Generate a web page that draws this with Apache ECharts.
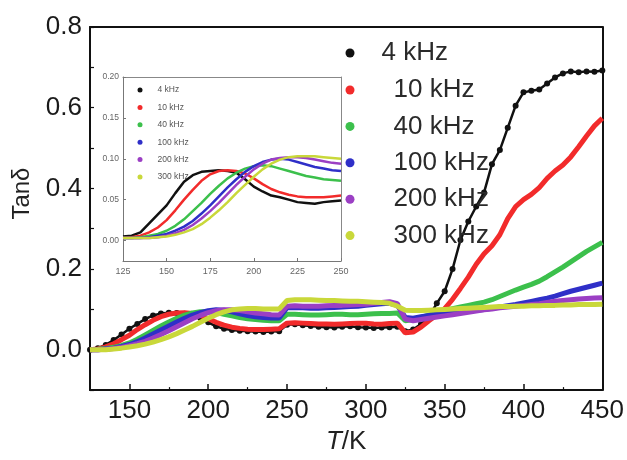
<!DOCTYPE html>
<html>
<head>
<meta charset="utf-8">
<script src="https://cdn.jsdelivr.net/npm/echarts@6/dist/echarts.min.js"></script>
<style>
  html, body { margin: 0; padding: 0; background: #fff; }
  #chart { width: 627px; height: 460px; }
</style>
</head>
<body>
<div id="chart"></div>
<script>
// Temperature sweep (K) for the full-range curves
const temps = [125,130,135,140,145,150,155,160,165,170,175,180,185,190,195,200,205,210,215,220,225,230,235,240,245,
  250,255,260,265,270,275,280,285,290,295,300,305,310,315,320,
  325,330,335,340,345,350,355,360,365,370,375,380,385,390,395,400,405,410,415,420,425,430,435,440,445,450];

const freqNames = ['4 kHz', '10 kHz', '40 kHz', '100 kHz', '200 kHz', '300 kHz'];
const freqColors = ['#111111', '#f22b2b', '#3cc04c', '#2f2fc8', '#9b3fc4', '#c9d83a'];

// tan δ, full range
const tan4k = [0.000,0.004,0.012,0.024,0.038,0.052,0.064,0.076,0.085,0.090,0.092,0.091,0.089,0.086,0.079,0.068,0.058,0.052,0.049,0.047,0.046,0.045,0.044,0.045,0.046,
  0.062,0.063,0.061,0.059,0.057,0.056,0.055,0.057,0.058,0.056,0.055,0.054,0.055,0.056,0.057,
  0.046,0.050,0.064,0.082,0.115,0.145,0.200,0.272,0.318,0.355,0.390,0.460,0.495,0.550,0.605,0.638,0.642,0.645,0.660,0.675,0.685,0.690,0.688,0.690,0.689,0.692];
const tan10k = [0.000,0.002,0.007,0.015,0.025,0.036,0.050,0.062,0.073,0.082,0.088,0.091,0.092,0.090,0.085,0.077,0.068,0.061,0.056,0.053,0.051,0.050,0.050,0.051,0.052,
  0.066,0.067,0.066,0.065,0.064,0.064,0.063,0.064,0.065,0.066,0.066,0.064,0.063,0.065,0.066,
  0.042,0.044,0.056,0.072,0.086,0.102,0.125,0.152,0.180,0.212,0.238,0.258,0.285,0.325,0.355,0.372,0.385,0.402,0.425,0.443,0.458,0.478,0.503,0.530,0.555,0.574];
const tan40k = [0.000,0.001,0.003,0.006,0.011,0.017,0.026,0.037,0.048,0.059,0.069,0.078,0.086,0.091,0.094,0.094,0.092,0.088,0.084,0.080,0.077,0.075,0.073,0.072,0.072,
  0.088,0.088,0.087,0.086,0.086,0.087,0.088,0.088,0.087,0.087,0.088,0.089,0.090,0.090,0.091,
  0.072,0.075,0.080,0.086,0.092,0.098,0.102,0.106,0.110,0.114,0.118,0.124,0.132,0.140,0.148,0.155,0.162,0.170,0.181,0.193,0.205,0.218,0.231,0.244,0.255,0.266];
const tan100k = [0.000,0.000,0.002,0.004,0.008,0.013,0.020,0.029,0.039,0.049,0.059,0.069,0.078,0.086,0.092,0.097,0.099,0.098,0.094,0.089,0.085,0.082,0.080,0.079,0.079,
  0.104,0.105,0.104,0.103,0.103,0.104,0.105,0.106,0.107,0.108,0.110,0.112,0.114,0.115,0.110,
  0.080,0.078,0.082,0.085,0.088,0.090,0.092,0.094,0.096,0.098,0.100,0.103,0.106,0.109,0.112,0.116,0.120,0.124,0.128,0.133,0.139,0.145,0.150,0.155,0.160,0.165];
const tan200k = [0.000,0.000,0.001,0.003,0.006,0.010,0.015,0.021,0.029,0.038,0.047,0.057,0.067,0.077,0.085,0.092,0.097,0.099,0.099,0.097,0.094,0.091,0.089,0.087,0.086,
  0.108,0.109,0.108,0.108,0.108,0.109,0.110,0.110,0.111,0.112,0.113,0.115,0.117,0.119,0.114,
  0.076,0.072,0.075,0.078,0.081,0.084,0.087,0.090,0.093,0.096,0.099,0.101,0.104,0.106,0.108,0.110,0.112,0.114,0.117,0.120,0.122,0.124,0.126,0.127,0.128,0.129];
const tan300k = [0.000,0.000,0.000,0.002,0.004,0.007,0.010,0.014,0.019,0.025,0.032,0.040,0.049,0.058,0.068,0.078,0.087,0.094,0.099,0.101,0.102,0.102,0.101,0.101,0.101,
  0.122,0.124,0.124,0.124,0.123,0.122,0.122,0.121,0.120,0.120,0.119,0.118,0.117,0.115,0.108,
  0.098,0.097,0.097,0.098,0.099,0.100,0.101,0.102,0.103,0.104,0.105,0.106,0.107,0.107,0.108,0.108,0.109,0.109,0.110,0.110,0.111,0.111,0.112,0.112,0.112,0.113];

// Low-temperature detail (inset), 125–250 K
const insetTemps = [125,130,135,140,145,150,155,160,165,170,175,180,185,190,195,200,205,210,215,220,225,230,235,240,245,250];
const inset4k = [0.005,0.006,0.010,0.021,0.032,0.043,0.058,0.072,0.080,0.084,0.085,0.086,0.085,0.083,0.075,0.066,0.060,0.055,0.053,0.050,0.047,0.046,0.045,0.047,0.048,0.049];
const inset10k = [0.003,0.004,0.006,0.010,0.016,0.025,0.037,0.050,0.062,0.073,0.081,0.085,0.086,0.085,0.082,0.076,0.069,0.063,0.059,0.056,0.054,0.053,0.053,0.053,0.054,0.055];
const inset40k = [0.003,0.003,0.004,0.006,0.008,0.012,0.018,0.026,0.036,0.046,0.057,0.067,0.076,0.083,0.088,0.091,0.092,0.091,0.088,0.085,0.082,0.079,0.077,0.075,0.074,0.073];
const inset100k = [0.003,0.003,0.003,0.004,0.006,0.008,0.012,0.017,0.024,0.033,0.043,0.054,0.065,0.075,0.084,0.091,0.096,0.099,0.100,0.099,0.096,0.093,0.090,0.088,0.086,0.085];
const inset200k = [0.003,0.003,0.003,0.003,0.004,0.006,0.009,0.013,0.019,0.027,0.036,0.046,0.057,0.068,0.078,0.087,0.094,0.099,0.101,0.102,0.102,0.101,0.099,0.097,0.095,0.094];
const inset300k = [0.003,0.003,0.003,0.003,0.004,0.005,0.007,0.010,0.014,0.020,0.028,0.037,0.047,0.058,0.068,0.078,0.087,0.094,0.099,0.102,0.103,0.103,0.103,0.102,0.101,0.100];

// Tick and label positions
const mainXLabels = [150,200,250,300,350,400,450];
const mainXMinor = [175,225,275,325,375,425];
const mainYLabels = [0,0.2,0.4,0.6,0.8];
const insetXLabels = [125,150,175,200,225,250];
const insetYLabels = [0,0.05,0.10,0.15,0.20];

const mainSets = [tan4k, tan10k, tan40k, tan100k, tan200k, tan300k];
const insetSets = [inset4k, inset10k, inset40k, inset100k, inset200k, inset300k];

const FONT = '"Liberation Sans", Arial, sans-serif';
const pair = (xs, ys) => xs.map((x, i) => [x, ys[i]]);
const hidden = { show: false };

const series = [];
mainSets.forEach((vals, k) => {
  const isBlack = k === 0;
  series.push({
    name: freqNames[k], type: 'line', xAxisIndex: 0, yAxisIndex: 0,
    data: pair(temps, vals),
    color: freqColors[k],
    showSymbol: isBlack, symbol: 'circle', symbolSize: 6,
    lineStyle: { width: isBlack ? 2.5 : 5, color: freqColors[k] },
    itemStyle: { color: freqColors[k] },
    z: 3 + k, silent: true, animation: false
  });
});
insetSets.forEach((vals, k) => {
  series.push({
    name: freqNames[k], type: 'line', xAxisIndex: 3, yAxisIndex: 2,
    data: pair(insetTemps, vals),
    color: freqColors[k],
    showSymbol: false,
    lineStyle: { width: 2.5, color: freqColors[k] },
    z: 10 + k, silent: true, animation: false
  });
});

function legendBlock(names, top, gap, textPad, fontSize, lineHeight, iconSize, left, color) {
  return {
    data: names, orient: 'vertical', align: 'left', left: left, top: top, padding: 0,
    itemGap: gap, selectedMode: false, icon: 'circle',
    itemWidth: iconSize, itemHeight: iconSize,
    textStyle: { fontFamily: FONT, fontSize: fontSize, lineHeight: lineHeight, color: color, padding: [0, 0, 0, textPad] }
  };
}

const chart = echarts.init(document.getElementById('chart'), null, { renderer: 'canvas' });
chart.setOption({
  backgroundColor: '#ffffff',
  animation: false,
  grid: [
    { left: 90, top: 27, width: 516, height: 377 },
    { left: 123, top: 77, width: 218, height: 184, show: true, backgroundColor: '#ffffff', borderWidth: 0 }
  ],
  legend: [
    legendBlock(['4 kHz'], 40, 0, 22, 26, 26, 9, 345.5, '#2a2a2a'),
    legendBlock(freqNames.slice(1), 77, 10.4, 34, 26, 26, 9, 345.5, '#2a2a2a'),
    legendBlock(freqNames, 85, 7.4, 10, 8.5, 10, 5, 137.5, '#555')
  ],
  xAxis: [
    {
      gridIndex: 0, type: 'value', min: 125, max: 450, interval: 25, position: 'bottom',
      axisLine: { onZero: false, lineStyle: { color: '#111', width: 2 } },
      axisTick: { inside: true, length: 6, customValues: mainXLabels, lineStyle: { color: '#111', width: 1.5 } },
      axisLabel: { customValues: mainXLabels, fontFamily: FONT, fontSize: 26, color: '#1a1a1a', margin: 8 },
      splitLine: hidden,
      name: '{i|T}/K', nameLocation: 'middle', nameGap: 34,
      nameTextStyle: { fontFamily: FONT, fontSize: 26, color: '#222', rich: { i: { fontFamily: FONT, fontSize: 26, fontStyle: 'italic', color: '#222' } } }
    },
    {
      gridIndex: 0, type: 'value', min: 125, max: 450, interval: 25, position: 'bottom',
      axisLine: { show: false, onZero: false },
      axisTick: { inside: true, length: 3, customValues: mainXMinor, lineStyle: { color: '#111', width: 1.2 } },
      axisLabel: hidden, splitLine: hidden
    },
    {
      gridIndex: 0, type: 'value', min: 125, max: 450, position: 'top',
      axisLine: { onZero: false, lineStyle: { color: '#111', width: 2 } },
      axisTick: hidden, axisLabel: hidden, splitLine: hidden
    },
    {
      gridIndex: 1, type: 'value', min: 125, max: 250, interval: 25, position: 'bottom',
      axisLine: { onZero: false, lineStyle: { color: '#777', width: 1 } },
      axisTick: { inside: true, length: 3, lineStyle: { color: '#777' } },
      axisLabel: { customValues: insetXLabels, fontFamily: FONT, fontSize: 9, color: '#666', margin: 6 },
      splitLine: hidden
    },
    {
      gridIndex: 1, type: 'value', min: 125, max: 250, position: 'top',
      axisLine: { onZero: false, lineStyle: { color: '#888', width: 1 } },
      axisTick: hidden, axisLabel: hidden, splitLine: hidden
    }
  ],
  yAxis: [
    {
      gridIndex: 0, type: 'value', min: -0.1, max: 0.8, interval: 0.1, position: 'left',
      axisLine: { show: true, onZero: false, lineStyle: { color: '#111', width: 2 } },
      axisTick: { show: true, inside: true, length: 4, lineStyle: { color: '#111', width: 1.2 } },
      axisLabel: { customValues: mainYLabels, formatter: v => v.toFixed(1), fontFamily: FONT, fontSize: 26, color: '#1a1a1a', margin: 8 },
      splitLine: hidden,
      name: 'Tanδ', nameLocation: 'middle', nameGap: 56,
      nameTextStyle: { fontFamily: FONT, fontSize: 24, color: '#222', padding: [0, 0, 0, 30] }
    },
    {
      gridIndex: 0, type: 'value', min: -0.1, max: 0.8, position: 'right',
      axisLine: { show: true, onZero: false, lineStyle: { color: '#111', width: 2 } },
      axisTick: hidden, axisLabel: hidden, splitLine: hidden
    },
    {
      gridIndex: 1, type: 'value', min: -0.025, max: 0.2, position: 'left',
      axisLine: { show: true, onZero: false, lineStyle: { color: '#777', width: 1 } },
      axisTick: { show: true, inside: true, length: 3, customValues: insetYLabels, lineStyle: { color: '#777' } },
      axisLabel: { customValues: insetYLabels, formatter: v => v.toFixed(2), fontFamily: FONT, fontSize: 8.5, color: '#666', margin: 4 },
      splitLine: hidden
    },
    {
      gridIndex: 1, type: 'value', min: -0.025, max: 0.2, position: 'right',
      axisLine: { show: true, onZero: false, lineStyle: { color: '#888', width: 1 } },
      axisTick: hidden, axisLabel: hidden, splitLine: hidden
    }
  ],
  series: series
});
</script>
</body>
</html>
